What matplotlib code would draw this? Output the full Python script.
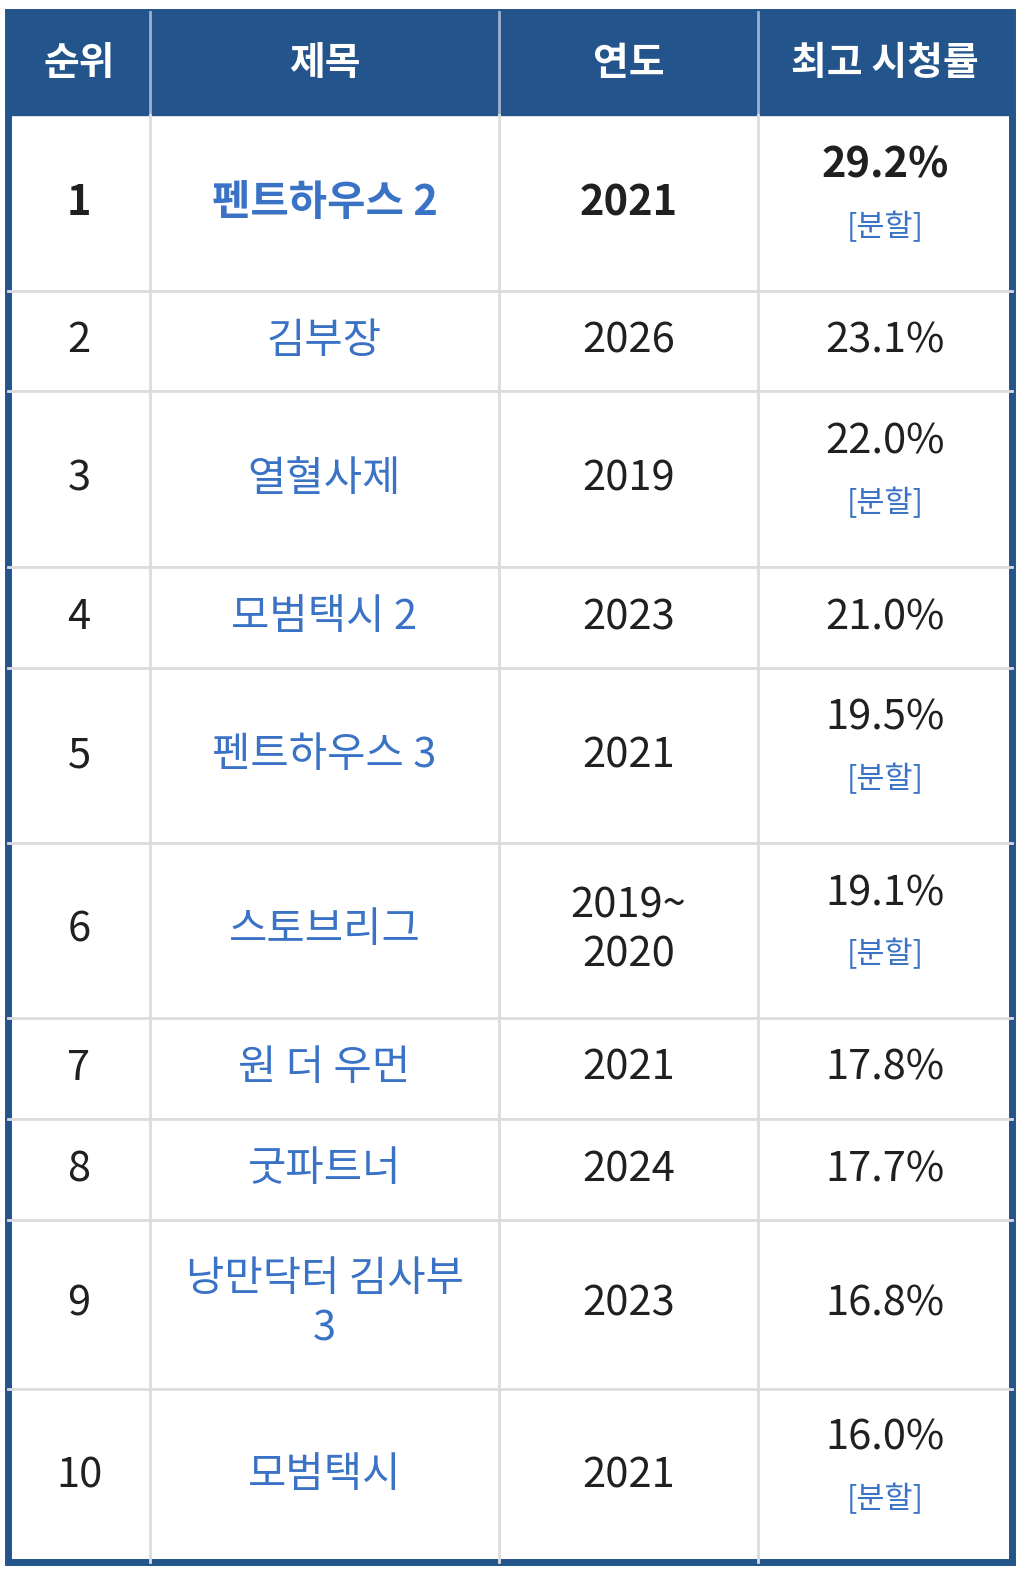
import matplotlib
matplotlib.use("Agg")
import matplotlib.pyplot as plt
from matplotlib.patches import Rectangle

plt.rcParams['font.family'] = ['Noto Sans CJK KR', 'DejaVu Sans']

headers = ["순위", "제목", "연도", "최고 시청률"]
ranks = ["1", "2", "3", "4", "5", "6", "7", "8", "9", "10"]
titles = ["펜트하우스 2", "김부장", "열혈사제", "모범택시 2", "펜트하우스 3", "스토브리그",
          "원 더 우먼", "굿파트너", "낭만닥터 김사부\n3", "모범택시"]
years = ["2021", "2026", "2019", "2023", "2021", "2019~\n2020", "2021", "2024", "2023", "2021"]
ratings = ["29.2%", "23.1%", "22.0%", "21.0%", "19.5%", "19.1%", "17.8%", "17.7%", "16.8%", "16.0%"]
split = [True, False, True, False, True, True, False, False, False, True]

W, H = 1024, 1580
fig = plt.figure(figsize=(W/100, H/100), dpi=100)
ax = fig.add_axes([0, 0, 1, 1])
ax.set_xlim(0, W); ax.set_ylim(H, 0); ax.axis('off')

navy = '#24548c'
blue = '#3a72c6'
grid = '#dcdcdc'
cols = [8, 150, 499, 758, 1012]
rows = [115, 291, 391, 567, 668, 843, 1018, 1119, 1220, 1389, 1562]
top = 12

ax.add_patch(Rectangle((cols[0], top), cols[-1]-cols[0], rows[0]-top, color=navy))
for i, h in enumerate(headers):
    ax.text((cols[i]+cols[i+1])/2, (top+rows[0])/2, h, color='white', fontsize=28,
            fontweight='bold', ha='center', va='center')
for x in cols[1:-1]:
    ax.plot([x, x], [top, rows[0]], color='#9fb3cc', lw=2)
    ax.plot([x, x], [rows[0], rows[-1]], color=grid, lw=2)
for y in rows[1:-1]:
    ax.plot([cols[0], cols[-1]], [y, y], color=grid, lw=2)
ax.add_patch(Rectangle((cols[0], top), cols[-1]-cols[0], rows[-1]-top, fill=False,
                       edgecolor=navy, lw=5))

for i in range(len(ranks)):
    y0, y1 = rows[i], rows[i+1]
    yc = (y0+y1)/2
    fw = 'bold' if i == 0 else 'normal'
    cx = [(cols[j]+cols[j+1])/2 for j in range(4)]
    ax.text(cx[0], yc, ranks[i], fontsize=30, ha='center', va='center', color='#202020', fontweight=fw)
    ax.text(cx[1], yc, titles[i], fontsize=30, ha='center', va='center', color=blue,
            fontweight=fw, linespacing=1.25)
    ax.text(cx[2], yc, years[i], fontsize=30, ha='center', va='center', color='#202020',
            fontweight=fw, linespacing=1.25)
    if split[i]:
        ax.text(cx[3], yc-37, ratings[i], fontsize=30, ha='center', va='center', color='#202020', fontweight=fw)
        ax.text(cx[3], yc+24, "[분할]", fontsize=22, ha='center', va='center', color=blue)
    else:
        ax.text(cx[3], yc, ratings[i], fontsize=30, ha='center', va='center', color='#202020', fontweight=fw)

fig.savefig("out.png", dpi=100, facecolor='white')
